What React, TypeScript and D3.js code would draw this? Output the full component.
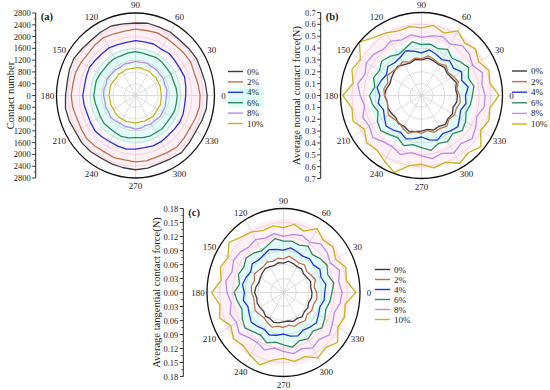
import React from 'react';
import * as d3 from 'd3';

// angle categories (degrees), one value every 10°
const angles = d3.range(0, 360, 10);
const angleTicks = d3.range(0, 360, 30);
const seriesNames = ['0%', '2%', '4%', '6%', '8%', '10%'];
const seriesColors = ['#3c3c3c', '#c07050', '#2437d6', '#2f8a5e', '#b58cf0', '#c8b418'];

// (a) contact number
const contact0 = [2540, 2510, 2480, 2500, 2470, 2450, 2480, 2470, 2490, 2460, 2470, 2510, 2480, 2450, 2470, 2520, 2500, 2460, 2480, 2520, 2500, 2460, 2490, 2480, 2450, 2470, 2490, 2520, 2500, 2460, 2480, 2530, 2490, 2460, 2500, 2550];
const contact2 = [2290, 2250, 2220, 2260, 2240, 2210, 2230, 2260, 2240, 2250, 2220, 2230, 2270, 2240, 2200, 2230, 2260, 2250, 2280, 2260, 2220, 2230, 2270, 2240, 2210, 2240, 2220, 2250, 2250, 2220, 2240, 2280, 2250, 2220, 2260, 2300];
const contact4 = [1780, 1810, 1850, 1820, 1830, 1860, 1820, 1860, 1850, 1860, 1830, 1840, 1870, 1850, 1860, 1890, 1860, 1840, 1870, 1850, 1820, 1840, 1870, 1840, 1810, 1830, 1850, 1820, 1800, 1820, 1810, 1780, 1790, 1810, 1800, 1770];
const contact6 = [1480, 1460, 1430, 1450, 1440, 1470, 1480, 1450, 1460, 1490, 1470, 1440, 1460, 1450, 1430, 1450, 1480, 1460, 1480, 1450, 1420, 1440, 1460, 1440, 1450, 1480, 1460, 1430, 1450, 1470, 1450, 1470, 1440, 1450, 1480, 1470];
const contact8 = [1100, 1130, 1100, 1140, 1120, 1150, 1130, 1170, 1140, 1160, 1120, 1140, 1100, 1130, 1120, 1150, 1110, 1140, 1130, 1100, 1130, 1110, 1150, 1120, 1090, 1120, 1100, 1140, 1120, 1080, 1110, 1090, 1130, 1110, 1120, 1090];
const contact10 = [920, 905, 930, 915, 945, 925, 955, 935, 960, 940, 925, 945, 915, 935, 905, 925, 950, 925, 945, 915, 935, 905, 925, 950, 925, 945, 915, 935, 905, 925, 915, 945, 925, 905, 935, 915];

// (b) average normal contact force (N)
const normal0 = [0.31, 0.30, 0.32, 0.30, 0.29, 0.31, 0.30, 0.31, 0.32, 0.30, 0.31, 0.29, 0.30, 0.32, 0.31, 0.30, 0.29, 0.31, 0.32, 0.30, 0.31, 0.30, 0.29, 0.31, 0.30, 0.32, 0.31, 0.30, 0.29, 0.31, 0.30, 0.32, 0.30, 0.31, 0.29, 0.31];
const normal2 = [0.33, 0.31, 0.34, 0.32, 0.30, 0.33, 0.31, 0.32, 0.34, 0.31, 0.32, 0.30, 0.33, 0.31, 0.32, 0.34, 0.31, 0.33, 0.32, 0.30, 0.31, 0.33, 0.31, 0.30, 0.32, 0.34, 0.31, 0.32, 0.30, 0.33, 0.32, 0.34, 0.31, 0.33, 0.32, 0.34];
const normal4 = [0.38, 0.41, 0.37, 0.40, 0.36, 0.38, 0.35, 0.37, 0.39, 0.36, 0.38, 0.40, 0.37, 0.36, 0.38, 0.35, 0.37, 0.39, 0.36, 0.38, 0.35, 0.37, 0.40, 0.38, 0.36, 0.39, 0.37, 0.35, 0.38, 0.40, 0.37, 0.39, 0.41, 0.38, 0.36, 0.39];
const normal6 = [0.44, 0.46, 0.43, 0.47, 0.44, 0.41, 0.45, 0.42, 0.44, 0.43, 0.46, 0.42, 0.40, 0.43, 0.45, 0.42, 0.44, 0.41, 0.45, 0.43, 0.40, 0.44, 0.46, 0.43, 0.41, 0.45, 0.42, 0.44, 0.47, 0.43, 0.45, 0.42, 0.46, 0.44, 0.41, 0.43];
const normal8 = [0.55, 0.53, 0.56, 0.51, 0.54, 0.55, 0.50, 0.53, 0.51, 0.49, 0.52, 0.50, 0.53, 0.51, 0.54, 0.55, 0.52, 0.56, 0.53, 0.50, 0.54, 0.52, 0.55, 0.51, 0.50, 0.53, 0.49, 0.51, 0.54, 0.52, 0.56, 0.53, 0.57, 0.54, 0.51, 0.55];
const normal10 = [0.67, 0.60, 0.62, 0.57, 0.61, 0.58, 0.63, 0.56, 0.60, 0.57, 0.59, 0.58, 0.61, 0.64, 0.70, 0.61, 0.64, 0.60, 0.68, 0.61, 0.63, 0.57, 0.62, 0.60, 0.64, 0.69, 0.60, 0.58, 0.62, 0.60, 0.66, 0.63, 0.67, 0.59, 0.62, 0.60];

// (c) average tangential contact force (N)
const tang0 = [0.067, 0.065, 0.068, 0.064, 0.062, 0.066, 0.064, 0.066, 0.068, 0.063, 0.065, 0.062, 0.064, 0.067, 0.065, 0.063, 0.062, 0.066, 0.068, 0.064, 0.066, 0.064, 0.062, 0.066, 0.064, 0.068, 0.066, 0.063, 0.062, 0.066, 0.064, 0.068, 0.064, 0.066, 0.063, 0.067];
const tang2 = [0.078, 0.073, 0.080, 0.075, 0.071, 0.077, 0.073, 0.075, 0.079, 0.072, 0.075, 0.071, 0.076, 0.073, 0.075, 0.079, 0.073, 0.077, 0.075, 0.071, 0.073, 0.077, 0.073, 0.071, 0.075, 0.079, 0.073, 0.075, 0.071, 0.077, 0.075, 0.079, 0.073, 0.077, 0.075, 0.080];
const tang4 = [0.097, 0.101, 0.094, 0.099, 0.092, 0.095, 0.090, 0.093, 0.097, 0.091, 0.094, 0.098, 0.093, 0.091, 0.096, 0.089, 0.094, 0.098, 0.092, 0.096, 0.089, 0.093, 0.099, 0.095, 0.091, 0.097, 0.093, 0.089, 0.095, 0.099, 0.093, 0.097, 0.101, 0.095, 0.091, 0.097];
const tang6 = [0.114, 0.120, 0.111, 0.118, 0.113, 0.106, 0.115, 0.108, 0.112, 0.110, 0.117, 0.108, 0.103, 0.110, 0.115, 0.108, 0.113, 0.105, 0.116, 0.110, 0.104, 0.112, 0.118, 0.110, 0.106, 0.115, 0.108, 0.112, 0.119, 0.110, 0.115, 0.108, 0.118, 0.112, 0.106, 0.111];
const tang8 = [0.138, 0.132, 0.140, 0.127, 0.134, 0.136, 0.124, 0.130, 0.126, 0.121, 0.128, 0.124, 0.131, 0.127, 0.134, 0.136, 0.129, 0.138, 0.133, 0.125, 0.134, 0.128, 0.136, 0.126, 0.124, 0.131, 0.121, 0.126, 0.133, 0.128, 0.137, 0.131, 0.141, 0.133, 0.127, 0.135];
const tang10 = [0.170, 0.150, 0.156, 0.142, 0.152, 0.146, 0.158, 0.140, 0.148, 0.139, 0.145, 0.141, 0.150, 0.155, 0.167, 0.151, 0.158, 0.149, 0.169, 0.152, 0.160, 0.143, 0.154, 0.148, 0.156, 0.165, 0.147, 0.141, 0.150, 0.146, 0.162, 0.154, 0.166, 0.148, 0.153, 0.147];

const FONT = '"Liberation Serif", "Times New Roman", serif';

interface PanelProps {
  letter: string;
  title: string;
  cx: number; cy: number; rx: number; ry: number;
  max: number; step: number; digits: number;
  axisX: number; titleX: number;
  series: number[][];
  pink: [number, number];
  cyan: [number, number];
  legend: { x: number; y: number; dy: number };
  legendBox?: boolean;
}

const Panel: React.FC<PanelProps> = (p) => {
  const { cx, cy, rx, ry, max, step } = p;
  const r = d3.scaleLinear().domain([0, max]).range([0, 1]);
  const y = d3.scaleLinear().domain([-max, max]).range([cy + ry, cy - ry]);
  const n = Math.round(max / step);
  const majors = d3.range(-n, n + 1).map(i => i * step);
  const minors = d3.range(-n, n).map(i => (i + 0.5) * step);
  const rings = d3.range(1, n).map(i => i * step);

  const px = (a: number, v: number) => cx + rx * r(v) * Math.cos((a * Math.PI) / 180);
  const py = (a: number, v: number) => cy - ry * r(v) * Math.sin((a * Math.PI) / 180);

  const line = d3.line<number>()
    .x((v, i) => px(angles[i], v))
    .y((v, i) => py(angles[i], v))
    .curve(d3.curveLinearClosed);

  const band = (lo: number, hi: number) => {
    const e = (v: number) =>
      `M${cx - rx * r(v)},${cy}a${rx * r(v)},${ry * r(v)} 0 1,0 ${2 * rx * r(v)},0a${rx * r(v)},${ry * r(v)} 0 1,0 ${-2 * rx * r(v)},0`;
    return e(hi) + e(lo);
  };

  return (
    <g>
      {/* faint background tints */}
      <path d={band(p.pink[0], p.pink[1])} fill="#ffd3e6" fillOpacity={0.35} fillRule="evenodd" />
      <path d={band(p.cyan[0], p.cyan[1])} fill="#c6fbf0" fillOpacity={0.5} fillRule="evenodd" />

      {/* grid */}
      {rings.map(v => (
        <ellipse key={v} cx={cx} cy={cy} rx={rx * r(v)} ry={ry * r(v)}
          fill="none" stroke={r(v) > 0.62 ? '#efc3d3' : '#cfcfcf'} strokeWidth={0.7} />
      ))}
      {angleTicks.map(a => (
        <line key={a} x1={cx} y1={cy} x2={px(a, max)} y2={py(a, max)} stroke="#cfcfcf" strokeWidth={0.7} />
      ))}

      {/* series */}
      {p.series.map((s, i) => (
        <path key={i} d={line(s) || ''} fill="none" stroke={seriesColors[i]} strokeWidth={1.3} strokeLinejoin="round" />
      ))}

      <ellipse cx={cx} cy={cy} rx={rx} ry={ry} fill="none" stroke="#111" strokeWidth={1.3} />

      {/* angle labels */}
      {angleTicks.map(a => (
        <text key={a}
          x={cx + (rx + 9) * Math.cos((a * Math.PI) / 180)}
          y={cy - (ry + 8) * Math.sin((a * Math.PI) / 180)}
          textAnchor="middle" dominantBaseline="central" fontSize={9} fill="#222">{a}</text>
      ))}

      {/* radial axis on the left */}
      <line x1={p.axisX} x2={p.axisX} y1={y(max)} y2={y(-max)} stroke="#222" strokeWidth={1} />
      {majors.map(v => (
        <g key={v}>
          <line x1={p.axisX - 3.5} x2={p.axisX} y1={y(v)} y2={y(v)} stroke="#222" strokeWidth={0.9} />
          <text x={p.axisX - 5} y={y(v)} textAnchor="end" dominantBaseline="central" fontSize={8.5} fill="#222">
            {Math.abs(v).toFixed(p.digits)}
          </text>
        </g>
      ))}
      {minors.map(v => (
        <line key={v} x1={p.axisX - 2} x2={p.axisX} y1={y(v)} y2={y(v)} stroke="#222" strokeWidth={0.7} />
      ))}
      <text transform={`translate(${p.titleX},${cy}) rotate(-90)`} textAnchor="middle"
        dominantBaseline="central" fontSize={10.5} fill="#222">{p.title}</text>
      <text x={p.axisX + 5} y={y(max) + 7} fontSize={10.5} fontWeight="bold" fill="#222">{p.letter}</text>

      {/* legend */}
      {p.legendBox && (
        <rect x={p.legend.x} y={p.legend.y + p.legend.dy * 1.6} width={36} height={p.legend.dy * 1.8} fill="#c6fbf0" fillOpacity={0.6} />
      )}
      {seriesNames.map((name, i) => (
        <g key={name}>
          <line x1={p.legend.x} x2={p.legend.x + 15} y1={p.legend.y + i * p.legend.dy} y2={p.legend.y + i * p.legend.dy}
            stroke={seriesColors[i]} strokeWidth={1.4} />
          <text x={p.legend.x + 19} y={p.legend.y + i * p.legend.dy} dominantBaseline="central" fontSize={9} fill="#222">{name}</text>
        </g>
      ))}
    </g>
  );
};

export default function App() {
  return (
    <svg width={550} height={390} style={{ position: 'absolute', left: 0, top: 0, fontFamily: FONT, background: '#fff' }}>
      <Panel letter="(a)" title="Contact number"
        cx={135.5} cy={95.5} rx={79} ry={82.5} max={2800} step={400} digits={0}
        axisX={35.7} titleX={10}
        series={[contact0, contact2, contact4, contact6, contact8, contact10]}
        pink={[1700, 2450]} cyan={[1000, 1650]}
        legend={{ x: 228, y: 71.5, dy: 10.4 }} legendBox />
      <Panel letter="(b)" title="Average normal contact force(N)"
        cx={421.5} cy={95.5} rx={81} ry={83} max={0.7} step={0.1} digits={1}
        axisX={320.7} titleX={296}
        series={[normal0, normal2, normal4, normal6, normal8, normal10]}
        pink={[0.46, 0.62]} cyan={[0.32, 0.45]}
        legend={{ x: 512, y: 71, dy: 10.6 }} />
      <Panel letter="(c)" title="Average tangential contact force(N)"
        cx={283.5} cy={292.5} rx={76.5} ry={84} max={0.18} step={0.03} digits={2}
        axisX={183.3} titleX={156.5}
        series={[tang0, tang2, tang4, tang6, tang8, tang10]}
        pink={[0.112, 0.158]} cyan={[0.078, 0.11]}
        legend={{ x: 375, y: 269.5, dy: 10 }} />
    </svg>
  );
}
